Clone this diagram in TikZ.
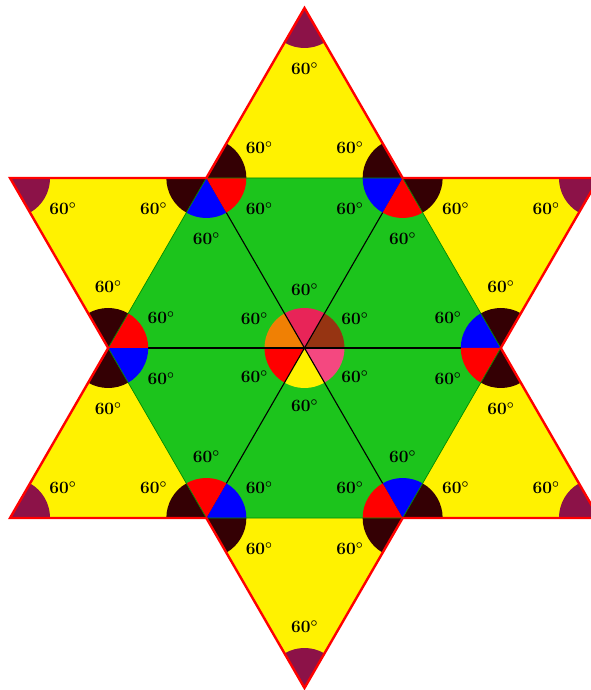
\documentclass[tikz,border=0pt]{standalone}
\usepackage{tikz}
\usetikzlibrary{calc}

\definecolor{hexgreen}{RGB}{28,196,28}
\definecolor{edgegreen}{RGB}{0,140,0}
\definecolor{darkbrown}{RGB}{52,0,4}
\definecolor{tipred}{RGB}{140,18,72}
\definecolor{midbrown}{RGB}{150,52,18}
\definecolor{crimson}{RGB}{232,36,88}
\definecolor{midorange}{RGB}{240,128,4}
\definecolor{hotpink}{RGB}{244,72,128}

% angle mark: vertex, start angle, end angle, colour
\newcommand{\angmark}[4]{%
  \fill[#4] (#1) -- ++(#2:40) arc[start angle=#2,end angle=#3,radius=40] -- cycle;}
\newcommand{\anglabel}[3]{%
  \node[deg] at ($(#1)+({(#2+#3)/2}:61)$) {$60^{\circ}$};}

\begin{document}
\begin{tikzpicture}[x=1pt,y=1pt,
  deg/.style={font=\fontsize{18}{21}\selectfont\boldmath,inner sep=0pt},
  outline/.style={draw=red,line width=2.4pt,line join=miter},
  diag/.style={draw=black,line width=1.1pt}
]
  \clip (-304.5,-342) rectangle (286.5,348);
  \fill[white] (-304.5,-342) rectangle (286.5,348);
  \foreach \i in {0,...,5}{
    \coordinate (h\i) at (\i*60:196.3);
    \coordinate (t\i) at (\i*60+30:340);
  }
  \coordinate (o) at (0,0);
  % star and hexagon
  \fill[yellow] (t0)--(h1)--(t1)--(h2)--(t2)--(h3)--(t3)--(h4)--(t4)--(h5)--(t5)--(h0)--cycle;
  \fill[hexgreen] (h0)--(h1)--(h2)--(h3)--(h4)--(h5)--cycle;
  % centre
  \angmark{o}{0}{60}{midbrown}
  \angmark{o}{60}{120}{crimson}
  \angmark{o}{120}{180}{midorange}
  \angmark{o}{180}{240}{red}
  \angmark{o}{240}{300}{yellow}
  \angmark{o}{300}{360}{hotpink}
  \draw[diag] (h0)--(h3);
  \draw[diag] (h1)--(h4);
  \draw[diag] (h2)--(h5);
  % marks at the hexagon corners and at the tips
  \foreach \i in {0,...,5}{
    \pgfmathsetmacro{\a}{\i*60}
    \angmark{h\i}{\a+60}{\a+120}{darkbrown}
    \angmark{h\i}{\a+240}{\a+300}{darkbrown}
    \angmark{h\i}{\a+120}{\a+180}{blue}
    \angmark{h\i}{\a+180}{\a+240}{red}
    \angmark{t\i}{\a+180}{\a+240}{tipred}
  }
  \draw[edgegreen,line width=0.7pt] (h0)--(h1)--(h2)--(h3)--(h4)--(h5)--cycle;
  \draw[outline] (t0)--(h1)--(t1)--(h2)--(t2)--(h3)--(t3)--(h4)--(t4)--(h5)--(t5)--(h0)--cycle;
  % labels
  \foreach \i in {0,...,5}{
    \pgfmathsetmacro{\a}{\i*60}
    \anglabel{h\i}{\a+60}{\a+120}
    \anglabel{h\i}{\a+240}{\a+300}
    \anglabel{h\i}{\a+120}{\a+180}
    \anglabel{h\i}{\a+180}{\a+240}
    \anglabel{t\i}{\a+180}{\a+240}
    \node[deg] at (\a+30:58) {$60^{\circ}$};
  }
\end{tikzpicture}
\end{document}
